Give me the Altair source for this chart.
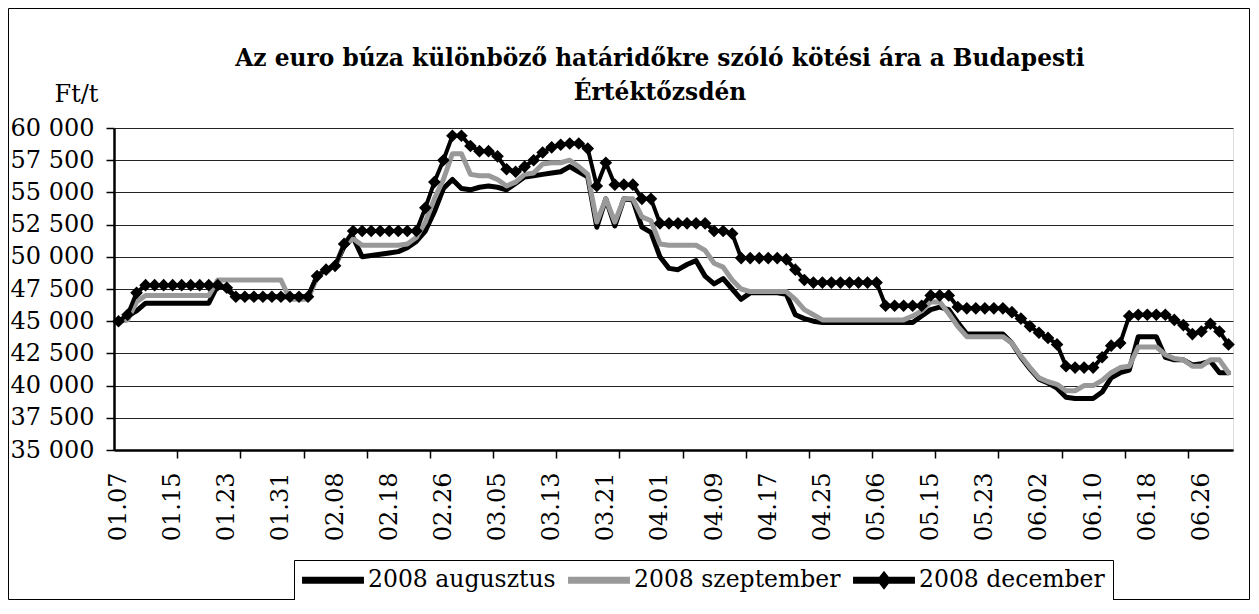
import json
import altair as alt
import pandas as pd

series_names = ["2008 augusztus", "2008 szeptember", "2008 december"]
title_lines = ["Az euro búza különböző határidőkre szóló kötési ára a Budapesti",
               "Értéktőzsdén"]

# trading days of the Budapest exchange shown on the category axis
holidays = ["2008-03-24", "2008-05-01", "2008-05-12"]
trading_days = [d for d in pd.bdate_range("2008-01-07", "2008-07-01")
                if d.strftime("%Y-%m-%d") not in holidays]
dates = [d.strftime("%m.%d") for d in trading_days]

aug = [45000, 45400, 45800, 46400, 46400, 46400, 46400, 46400, 46400, 46400,
       46400, 47800, 47500, 46900, 46900, 46900, 46900, 46900, 46900, 46900,
       46900, 46900, 48500, 49000, 49300, 50800, 51500, 50000, 50100, 50200,
       50300, 50400, 50700, 51200, 52000, 53500, 55300, 56000, 55300, 55200,
       55400, 55500, 55400, 55200, 55700, 56200, 56300, 56400, 56500, 56600,
       57000, 56600, 56200, 52300, 54500, 52400, 54500, 54400, 52300, 51900,
       50000, 49100, 49000, 49400, 49700, 48500, 47900, 48300, 47500, 46700,
       47200, 47200, 47200, 47200, 47100, 45500, 45200, 45000, 44900, 44900,
       44900, 44900, 44900, 44900, 44900, 44900, 44900, 44900, 44900, 45400,
       45900, 46100, 45900, 44900, 44000, 44000, 44000, 44000, 44000, 43300,
       42200, 41300, 40500, 40200, 39800, 39100, 39000, 39000, 39000, 39500,
       40600, 41000, 41200, 43800, 43800, 43800, 42200, 42000, 42000, 41600,
       41700, 41900, 41000, 41000]

sep = [45000, 45100, 46500, 47000, 47000, 47000, 47000, 47000, 47000, 47000,
       47000, 48200, 48200, 48200, 48200, 48200, 48200, 48200, 48200, 46700,
       46700, 46700, 48400, 49000, 49300, 51000, 51400, 50900, 50900, 50900,
       50900, 50900, 51000, 51500, 52700, 54500, 56000, 58000, 58000, 56400,
       56300, 56300, 56000, 55500, 55800, 56400, 56500, 57200, 57300, 57300,
       57500, 57000, 56400, 52700, 54500, 52700, 54500, 54500, 53100, 52800,
       51000, 50900, 50900, 50900, 50900, 50500, 49500, 49200, 48200, 47500,
       47300, 47300, 47300, 47300, 47300, 46700, 45900, 45500, 45100, 45100,
       45100, 45100, 45100, 45100, 45100, 45100, 45100, 45100, 45400, 45800,
       46500, 46500, 45600, 44600, 43800, 43800, 43800, 43800, 43800, 43300,
       42300, 41400, 40600, 40300, 40100, 39600, 39600, 40000, 40000, 40400,
       41000, 41400, 41500, 43000, 43000, 43000, 42400, 42100, 42000, 41500,
       41500, 42000, 42000, 41000]

dec = [45000, 45500, 47200, 47800, 47800, 47800, 47800, 47800, 47800, 47800,
       47800, 47800, 47600, 46900, 46900, 46900, 46900, 46900, 46900, 46900,
       46900, 46900, 48500, 49000, 49300, 51000, 52000, 52000, 52000, 52000,
       52000, 52000, 52000, 52000, 53800, 55800, 57500, 59400, 59400, 58600,
       58200, 58200, 57800, 56800, 56600, 57000, 57500, 58100, 58500, 58700,
       58800, 58800, 58400, 55500, 57300, 55600, 55600, 55600, 54500, 54500,
       52600, 52600, 52600, 52600, 52600, 52600, 52000, 52000, 51800, 49900,
       49900, 49900, 49900, 49900, 49800, 49000, 48200, 48000, 48000, 48000,
       48000, 48000, 48000, 48000, 48000, 46200, 46200, 46200, 46200, 46200,
       47000, 47000, 47000, 46100, 46000, 46000, 46000, 46000, 46000, 45700,
       45200, 44600, 44100, 43700, 43200, 41500, 41400, 41400, 41400, 42200,
       43100, 43300, 45400, 45500, 45500, 45500, 45500, 45100, 44700, 44000,
       44200, 44800, 44200, 43200]

y_ticks = [35000, 37500, 40000, 42500, 45000, 47500, 50000, 52500, 55000, 57500, 60000]

rows = []
for name, vals in zip(series_names, [aug, sep, dec]):
    for i, v in enumerate(vals):
        rows.append({"idx": i, "series": name, "value": v})
df = pd.DataFrame(rows)
df_aug = df[df["series"] == series_names[0]]
df_sep = df[df["series"] == series_names[1]]
df_dec = df[df["series"] == series_names[2]]

n = len(dates)
label_idx = list(range(0, n, 6))
tick_idx = [k * 7 - 0.5 for k in range(1, n // 7 + 1) if k * 7 - 0.5 < n - 0.5]

FONT = "DejaVu Serif"
W, H = 1119, 322
PAD = {"left": 106, "top": 120, "right": 17, "bottom": 150}

x_scale = alt.Scale(domain=[-0.5, n - 0.5], nice=False, zero=False)
y_scale = alt.Scale(domain=[35000, 60000], nice=False, zero=False)
color_scale = alt.Scale(domain=series_names, range=["black", "#999999", "black"])

y_axis = alt.Axis(values=y_ticks,
                  labelExpr="replace(format(datum.value, ','), ',', ' ')",
                  title="Ft/t", titleAngle=0, titleX=-38, titleY=-27,
                  titleAlign="center", titleBaseline="alphabetic",
                  titleFont=FONT, titleFontSize=24, titleFontWeight="normal",
                  titleColor="black",
                  labelFont=FONT, labelFontSize=24, labelColor="black",
                  labelPadding=12, tickSize=8, tickColor="black", tickWidth=1.5,
                  domainColor="black", domainWidth=2.5,
                  grid=True, gridColor="#222222", gridWidth=1)
Y = alt.Y("value:Q", scale=y_scale, axis=y_axis)

label_axis = alt.Axis(values=label_idx, orient="bottom",
                      labelExpr=json.dumps(dates) + "[datum.value]",
                      labelAngle=270, labelFont=FONT, labelFontSize=24,
                      labelColor="black", labelPadding=22, labelOverlap=False,
                      labelFlush=False, labelBound=False,
                      ticks=False, tickSize=0, domain=True, domainColor="black",
                      domainWidth=2.5, grid=False, title=None)
tick_axis = alt.Axis(values=tick_idx, orient="bottom", labels=False, ticks=True,
                     tickSize=8, tickColor="black", tickWidth=1.5, domain=False,
                     grid=False, title=None)

# legend symbols: a 62 px long bar (and a diamond for december) drawn around
# a 24 px layout slot
bar_path = "M-2.58,-0.3L2.58,-0.3L2.58,0.3L-2.58,0.3Z"
dec_path = "M-2.58,-0.3L2.58,-0.3L2.58,0.3L-2.58,0.3ZM0,-0.8L0.62,0L0,0.8L-0.62,0Z"

legend = alt.Legend(
    orient="none", legendX=180, legendY=432, direction="horizontal",
    columns=3, title=None, symbolSize=576, symbolStrokeWidth=0,
    symbolOpacity=1, symbolOffset=19, labelOffset=23,
    labelFont=FONT, labelFontSize=23.5, labelColor="black",
    labelLimit=500, strokeColor="black", fillColor="white", padding=8,
    columnPadding=12,
)

aug_line = alt.Chart(df_aug).mark_line(color="black", strokeWidth=5,
                                       strokeJoin="round", strokeCap="round").encode(
    x=alt.X("idx:Q", scale=x_scale, axis=label_axis),
    y=Y,
)

sep_line = alt.Chart(df_sep).mark_line(color="#999999", strokeWidth=5,
                                       strokeJoin="round", strokeCap="round").encode(
    x=alt.X("idx:Q", scale=x_scale, axis=None),
    y=Y,
)

dec_line = alt.Chart(df_dec).mark_line(color="black", strokeWidth=4,
                                       strokeJoin="round").encode(
    x=alt.X("idx:Q", scale=x_scale, axis=tick_axis),
    y=Y,
)

dec_points = alt.Chart(df_dec).mark_point(shape="diamond", filled=True, size=160,
                                          color="black", opacity=1).encode(
    x=alt.X("idx:Q", scale=x_scale, axis=None),
    y=Y,
)

# invisible layer that only carries the legend
legend_layer = alt.Chart(df).mark_point(filled=True, opacity=0, size=1).encode(
    x=alt.X("idx:Q", scale=x_scale, axis=None),
    y=Y,
    color=alt.Color("series:N", scale=color_scale, legend=legend),
    shape=alt.Shape("series:N",
                    scale=alt.Scale(domain=series_names,
                                    range=[bar_path, bar_path, dec_path]),
                    legend=legend),
)

one = pd.DataFrame({"f": [0]})

frame = alt.Chart(one).mark_rect(
    fill="white", fillOpacity=0, stroke="black", strokeWidth=1).encode(
    x=alt.value(-105.5), x2=alt.value(W + PAD["right"] - 0.5),
    y=alt.value(-119.5), y2=alt.value(H + PAD["bottom"] - 0.5),
)

title = alt.Chart(one).mark_text(
    text=title_lines, font=FONT, fontSize=23.3, fontWeight="bold", color="black",
    align="center", baseline="alphabetic", lineHeight=34).encode(
    x=alt.value(546), y=alt.value(-62),
)

chart = alt.layer(aug_line, sep_line, dec_line, dec_points, legend_layer,
                  frame, title).resolve_axis(
    x="independent"
).properties(
    width=W, height=H,
    autosize=alt.AutoSizeParams(type="none"),
    padding=PAD,
).configure_view(stroke="black", strokeWidth=2).configure(background="white")

chart.save("out.html", embed_options={"renderer": "svg", "actions": False})
